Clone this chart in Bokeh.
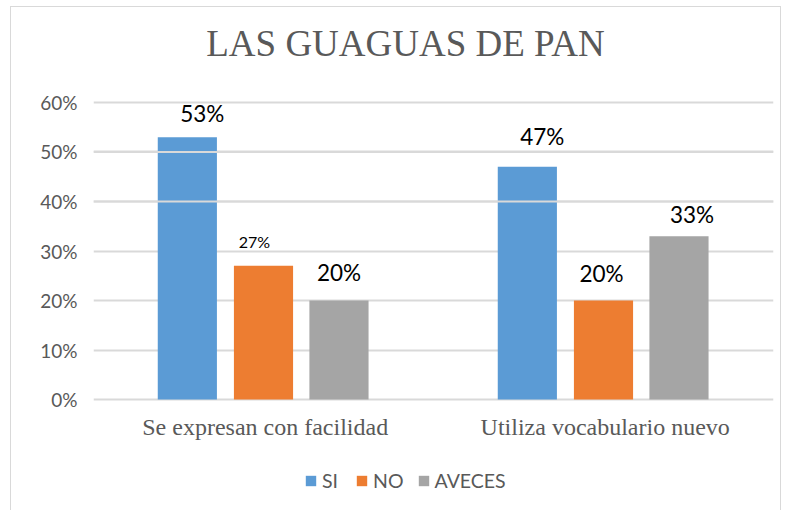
from bokeh.plotting import figure
from bokeh.models import (ColumnDataSource, FactorRange, Range1d, FixedTicker,
                          NumeralTickFormatter, Legend, LegendItem, Span)
from bokeh.transform import dodge
from bokeh.embed import file_html
from bokeh.resources import INLINE
from bokeh.core.properties import value

# ---- data ----
title_text = "LAS GUAGUAS DE PAN"
categories = ["Se expresan con facilidad", "Utiliza vocabulario nuevo"]
series_names = ["SI", "NO", "AVECES"]
si_values = [0.53, 0.47]
no_values = [0.27, 0.20]
aveces_values = [0.20, 0.33]
y_ticks = [0.0, 0.1, 0.2, 0.3, 0.4, 0.5, 0.6]

# ---- styles ----
colors = ["#5B9BD5", "#ED7D31", "#A5A5A5"]
offsets = [-0.224, 0.0, 0.222]
bar_width = 0.174
label_font_sizes = [["22.5px", "22.5px"], ["16px", "22.5px"], ["22.5px", "22.5px"]]
label_dx = [[15, 15], [-9, -2], [0, 13]]
label_dy = [[-24, -30], [-24, -27], [-28, -22]]
GRAY_TEXT = "#595959"
GRID = "#D9D9D9"
SANS = "Lato"
SERIF = "Liberation Serif"

p = figure(width=771, height=504, output_backend="svg", toolbar_location=None,
           x_range=FactorRange(*categories, range_padding=0),
           y_range=Range1d(-0.202, 0.7919),
           min_border_left=82, min_border_right=9, min_border_top=0,
           min_border_bottom=12)
p.styles = {"border-left": "1px solid #D9D9D9", "border-top": "1px solid #D9D9D9",
            "border-right": "1px solid #D9D9D9",
            "margin-left": "10px", "margin-top": "6px"}

p.outline_line_color = None
p.background_fill_color = "white"
p.border_fill_color = "white"

p.xgrid.grid_line_color = None
p.ygrid.grid_line_color = GRID
p.ygrid.grid_line_width = 1.8

p.yaxis.ticker = FixedTicker(ticks=y_ticks)
p.yaxis.formatter = NumeralTickFormatter(format="0%")
p.yaxis.axis_line_color = None
p.yaxis.major_tick_line_color = None
p.yaxis.minor_tick_line_color = None
p.yaxis.major_label_text_font = SANS
p.yaxis.major_label_text_font_size = "19px"
p.yaxis.major_label_text_color = GRAY_TEXT
p.yaxis.major_label_standoff = 10

p.xaxis.visible = False

# chart title, centred above the plot area
title_src = ColumnDataSource(dict(x=[categories[0]], y=[y_ticks[-1]], t=[title_text]))
p.text(x=dodge("x", 0.5, range=p.x_range), y="y", text="t", source=title_src,
       text_font=value(SERIF), text_font_size="37px", text_color=GRAY_TEXT,
       text_align="center", text_baseline="alphabetic", x_offset=-28, y_offset=-59)

all_values = [si_values, no_values, aveces_values]
items = []
for i, (name, vals) in enumerate(zip(series_names, all_values)):
    src = ColumnDataSource(dict(
        cat=categories, val=vals,
        txt=["%d%%" % round(v * 100) for v in vals],
        fs=label_font_sizes[i], dx=label_dx[i], dy=label_dy[i]))
    r = p.vbar(x=dodge("cat", offsets[i], range=p.x_range), top="val",
               width=bar_width, source=src, fill_color=colors[i],
               line_color=None)
    items.append(LegendItem(label=name, renderers=[r]))
    p.text(x=dodge("cat", offsets[i], range=p.x_range), y="val", text="txt",
           source=src, text_font=value(SANS), text_font_size="fs",
           x_offset="dx", y_offset="dy", text_align="center",
           text_baseline="alphabetic", text_color="black")

# category labels under the bars
cat_src = ColumnDataSource(dict(cat=categories, y=[0] * len(categories)))
p.text(x=dodge("cat", 0.005, range=p.x_range), y="y", text="cat", source=cat_src,
       text_font=value(SERIF), text_font_size="24px", text_color=GRAY_TEXT,
       text_align="center", text_baseline="alphabetic", y_offset=27)

# gridlines that show over the tall bars in the reference
for lvl in (0.4, 0.5):
    p.add_layout(Span(location=lvl, dimension="width", line_color=GRID,
                      line_width=1.8, level="overlay"))

legend = Legend(items=items, orientation="horizontal", location=(211, 7.5),
                label_text_font=SANS, label_text_font_size="19.5px",
                label_text_color=GRAY_TEXT, glyph_width=13, glyph_height=13,
                label_standoff=5, spacing=13, padding=0, margin=0,
                border_line_color=None, background_fill_alpha=0)
p.add_layout(legend, "center")

open("out.html", "w").write(file_html(p, INLINE))
